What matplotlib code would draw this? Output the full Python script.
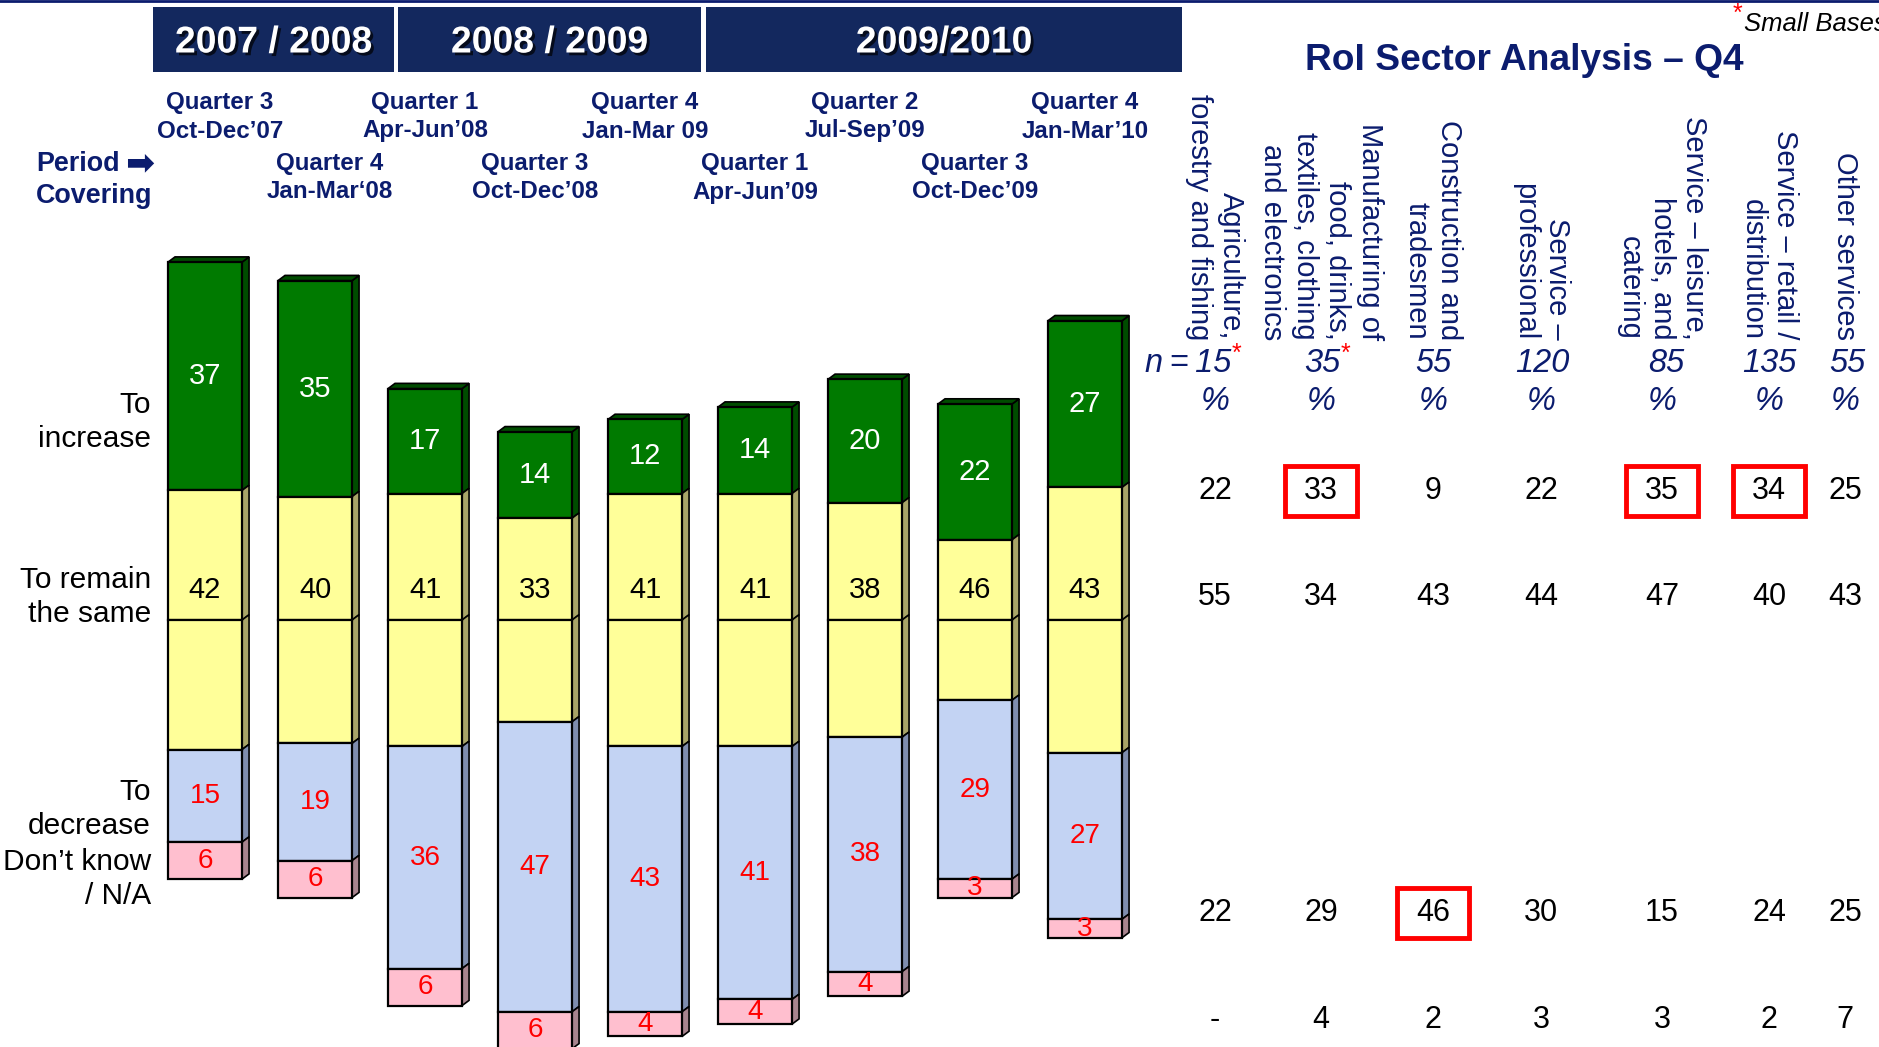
import matplotlib
matplotlib.use('Agg')
import matplotlib.pyplot as plt
from matplotlib.patches import Polygon, Rectangle
import matplotlib.patheffects as pe
from matplotlib import font_manager as fm

# --- data -------------------------------------------------------------
quarters = ['Quarter 3\nOct-Dec\u201907', 'Quarter 4\nJan-Mar\u201808', 'Quarter 1\nApr-Jun\u201908',
            'Quarter 3\nOct-Dec\u201908', 'Quarter 4\nJan-Mar 09', 'Quarter 1\nApr-Jun\u201909',
            'Quarter 2\nJul-Sep\u201909', 'Quarter 3\nOct-Dec\u201909', 'Quarter 4\nJan-Mar\u201910']
years = ['2007 / 2008', '2008 / 2009', '2009/2010']
increase = [37, 35, 17, 14, 12, 14, 20, 22, 27]
same = [42, 40, 41, 33, 41, 41, 38, 46, 43]          # labels
same_drawn = [42, 40, 41, 33, 41, 41, 38, 26, 43]    # heights as drawn in the original
decrease = [15, 19, 36, 47, 43, 41, 38, 29, 27]
dont_know = [6, 6, 6, 6, 4, 4, 4, 3, 3]

sectors = ['Agriculture,\nforestry and fishing',
           'Manufacturing of\nfood, drinks,\ntextiles, clothing\nand electronics',
           'Construction and\ntradesmen', 'Service \u2013\nprofessional',
           'Service \u2013 leisure,\nhotels, and\ncatering',
           'Service \u2013 retail /\ndistribution', 'Other services']
bases = ['15', '35', '55', '120', '85', '135', '55']
small_base = [True, True, False, False, False, False, False]
sec_increase = ['22', '33', '9', '22', '35', '34', '25']
sec_same = ['55', '34', '43', '44', '47', '40', '43']
sec_decrease = ['22', '29', '46', '30', '15', '24', '25']
sec_dk = ['-', '4', '2', '3', '3', '2', '7']
highlight = [(0, 1), (0, 4), (0, 5), (2, 2)]   # (row, col) boxed in red

# --- fonts / colours ---------------------------------------------------
plt.rcParams['font.family'] = ['Liberation Sans', 'DejaVu Sans']
NAVY = '#0B1C6E'
BOX = '#13285E'
NB = fm.FontProperties(family=['Liberation Sans', 'DejaVu Sans'], weight='bold')
NR = fm.FontProperties(family=['Liberation Sans', 'DejaVu Sans'])
NI = fm.FontProperties(family=['Liberation Sans', 'DejaVu Sans'], style='italic')

W, H = 1879, 1047
fig = plt.figure(figsize=(W / 100, H / 100), dpi=100)
fig.patch.set_facecolor('white')
rend = fig.canvas.get_renderer()


def P(x, y):
    # pixel (from top-left) -> figure fraction
    return x / W, 1 - y / H


def fp(base, size):
    p = base.copy()
    p.set_size(size)
    return p


def fit(s, base, target):
    # font size that makes s about target px wide
    t = fig.text(0, 0, s, fontproperties=fp(base, 20))
    w = t.get_window_extent(renderer=rend).width
    t.remove()
    return 20 * target / w


# bar axes: bar i centred at 205 + 110*i px, zero line at 620 px, 6.17 px per %
ax = fig.add_axes([0, 0, 1, 1])
ax.set_xlim(-205 / 110, (W - 205) / 110)
ax.set_ylim(-(H - 620) / 6.17, 620 / 6.17)
ax.axis('off')

x = list(range(len(increase)))
half = [s / 2 for s in same_drawn]
bw = 0.673
dx, dy = 0.064, 0.85

segments = [
    (half, increase, '#007A00', '#004C00'),
    ([0] * len(x), half, '#FFFF99', '#A8A468'),
    ([-h for h in half], half, '#FFFF99', '#A8A468'),
    ([-h - d for h, d in zip(half, decrease)], decrease, '#C3D3F3', '#7F8DAE'),
    ([-h - d - k for h, d, k in zip(half, decrease, dont_know)], dont_know, '#FFBFCF', '#A8848E'),
]
for bottoms, heights, face, side in segments:
    ax.bar(x, heights, bottom=bottoms, width=bw, color=face, edgecolor='black', linewidth=1.6, zorder=3)
    for xi, b, h in zip(x, bottoms, heights):
        xr = xi + bw / 2
        ax.add_patch(Polygon([(xr, b), (xr + dx, b + dy), (xr + dx, b + h + dy), (xr, b + h)],
                             closed=True, facecolor=side, edgecolor='black', linewidth=1.2, zorder=2))
for xi, h, g in zip(x, half, increase):
    t = h + g
    xl, xr = xi - bw / 2, xi + bw / 2
    ax.add_patch(Polygon([(xl, t), (xl + dx, t + dy), (xr + dx, t + dy), (xr, t)],
                         closed=True, facecolor='#004C00', edgecolor='black', linewidth=1.2, zorder=2))

# bar labels
red_size = fit('47', NR, 31)
for xi, h, g, d, k, s in zip(x, half, increase, decrease, dont_know, same):
    ax.text(xi, h + g / 2, str(g), ha='center', va='center', color='white', fontsize=21, zorder=5)
    ax.text(xi, 4.8, str(s), ha='center', va='center', color='black', fontsize=21, zorder=5)
    ax.text(xi, -h - d / 2, str(d), ha='center', va='center', color='red',
            fontproperties=fp(NR, red_size), zorder=5)
    ax.text(xi, -h - d - k / 2, str(k), ha='center', va='center', color='red',
            fontproperties=fp(NR, red_size), zorder=5)

# quarter labels (alternating rows, over the bars)
q_size = fit('Oct-Dec\u201907', NB, 126)
for i, q in enumerate(quarters):
    ytop = 102 if i % 2 == 0 else 163
    cx = ax.transData.transform((i, 0))[0] / W + (15 / W if i < 2 else 0)
    for k, line in enumerate(q.split('\n')):
        fig.text(cx, P(0, ytop + 29 * k)[1], line, ha='center', va='center', color=NAVY,
                 fontproperties=fp(NB, q_size))

pc_size = fit('Covering', NB, 116)
fig.text(*P(36, 164), 'Period', ha='left', va='center', color=NAVY, fontproperties=fp(NB, pc_size))
fig.text(*P(154, 163), '\u27A1', ha='right', va='center', color=NAVY, fontsize=25,
         family='DejaVu Sans', fontweight='bold')
fig.text(*P(36, 196), 'Covering', ha='left', va='center', color=NAVY, fontproperties=fp(NB, pc_size))

# year header boxes
boxes = [(153, 394), (398, 701), (706, 1182)]
y_size = fit(years[0], NB, 198)
for (x0, x1), label in zip(boxes, years):
    fx0, fy0 = P(x0, 72)
    fx1, fy1 = P(x1, 7)
    fig.patches.append(Rectangle((fx0, fy0), fx1 - fx0, fy1 - fy0, transform=fig.transFigure,
                                 facecolor=BOX, edgecolor='none'))
    fig.text((fx0 + fx1) / 2, P(0, 43)[1], label, ha='center', va='center', color='white',
             fontproperties=fp(NB, y_size),
             path_effects=[pe.withSimplePatchShadow(offset=(2, -2), shadow_rgbFace='black', alpha=0.7)])

# top rule
fig.add_artist(plt.Line2D([0, 1], [P(0, 1)[1]] * 2, transform=fig.transFigure, color=NAVY, linewidth=2))

# left category labels
for txt, y in [('To\nincrease', 422), ('To remain\nthe same', 597), ('To\ndecrease', 809),
               ('Don\u2019t know\n/ N/A', 879)]:
    fig.text(*P(151, y), txt, ha='right', va='center', multialignment='right', fontsize=21.5,
             color='black', linespacing=1.27)

# right-hand sector table
fig.text(*P(1524, 60), 'RoI Sector Analysis \u2013 Q4', ha='center', va='center', color=NAVY,
         fontproperties=fp(NB, fit('RoI Sector Analysis \u2013 Q4', NB, 438)))
fig.text(*P(1733, 14), '*', ha='left', va='center', color='red', fontsize=18)
fig.text(*P(1744, 24), 'Small Bases', ha='left', va='center', color='black',
         fontproperties=fp(NI, fit('Small', NI, 64)))

col_px = [1215, 1321, 1433, 1541, 1662, 1769, 1845]
n_right = [1231, 1340, 1452, 1570, 1684, 1797, 1866]
n_size = fit('120', NI, 54)
for j, (cx, sec) in enumerate(zip(col_px, sectors)):
    fig.text(*P(cx, 340), sec, rotation=-90, ha='center', va='bottom', multialignment='right',
             color=NAVY, fontsize=21, linespacing=1.2)
    label = ('n\u2009=\u2009' if j == 0 else '') + bases[j]
    fig.text(*P(n_right[j], 364), label, ha='right', va='center', color=NAVY,
             fontproperties=fp(NI, n_size))
    if small_base[j]:
        fig.text(*P(n_right[j] + 1, 354), '*', ha='left', va='center', color='red', fontsize=18)
    fig.text(*P(cx, 402), '%', ha='center', va='center', color=NAVY, fontproperties=fp(NI, n_size))

row_y = [491, 597, 913, 1020]
rows = [sec_increase, sec_same, sec_decrease, sec_dk]
for ry, vals in zip(row_y, rows):
    for cx, v in zip(col_px, vals):
        fig.text(*P(cx, ry), v, ha='center', va='center', color='black', fontsize=22)
for r, j in highlight:
    cx, ry = col_px[j], row_y[r]
    fx0, fy0 = P(cx - 36, ry + 25)
    fx1, fy1 = P(cx + 36, ry - 25)
    fig.patches.append(Rectangle((fx0, fy0), fx1 - fx0, fy1 - fy0, transform=fig.transFigure,
                                 facecolor='none', edgecolor='red', linewidth=3.5))

fig.savefig('out.png', dpi=100)
